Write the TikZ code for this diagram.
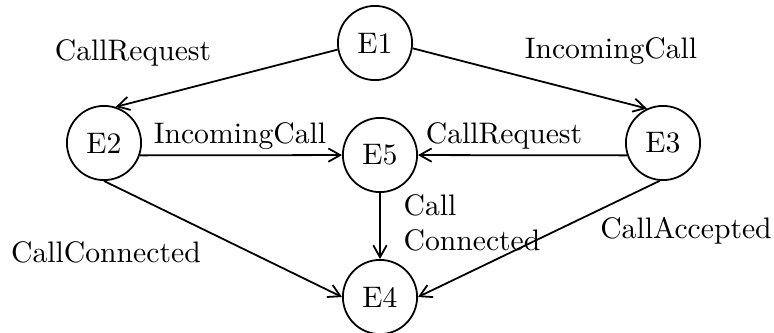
\documentclass[tikz,border=0pt]{standalone}
\usetikzlibrary{arrows.meta}
\begin{document}
\begin{tikzpicture}[x=0.337pt,y=-0.337pt,
  state/.style={circle,draw,line width=0.6pt,minimum size=25pt,inner sep=0pt},
  trans/.style={line width=0.6pt,-{Straight Barb[length=4pt,width=4.5pt]}},
  lbl/.style={inner sep=0pt}]
\useasboundingbox (0,0) rectangle (774,332);

\node[state] (E1) at (375,43) {E1};
\node[state] (E2) at (104,143) {E2};
\node[state] (E3) at (663,143) {E3};
\node[state] (E5) at (380,155) {E5};
\node[state] (E4) at (380,297) {E4};

\draw[trans] (E1.190) -- (E2.72);
\draw[trans] (E1.-8) -- (E3.115);
\draw[trans] (E2.-19) -- (E5);
\draw[trans] (E3.199) -- (E5);
\draw[trans] (E2.south) -- (E4.west);
\draw[trans] (E5.south) -- (E4.north);
\draw[trans] (E3.-95) -- (E4.east);

\node[lbl] (reqTop) at (133,52.6) {CallRequest};
\node[lbl] (incTop) at (611,50.6) {IncomingCall};
\node[lbl] (incMid) at (240,135.6) {IncomingCall};
\node[lbl] (reqMid) at (504,136) {CallRequest};
\node[lbl,anchor=base west] (call) at (403,215) {Call};
\node[lbl,anchor=base west] (connected) at (403,250) {Connected};
\node[lbl] (accepted) at (686,230.6) {CallAccepted};
\node[lbl] (connLeft) at (106,252.7) {CallConnected};
\end{tikzpicture}
\end{document}
